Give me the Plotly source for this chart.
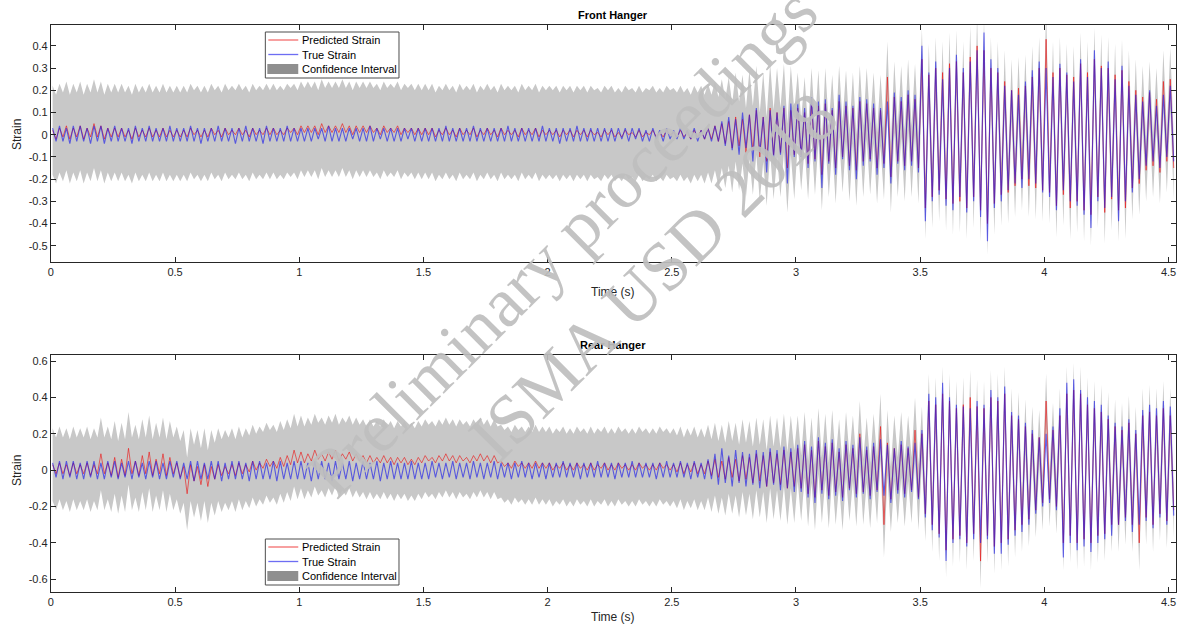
import numpy as np
import plotly.graph_objects as go

# ---------------- data (strain in hundredths, one row = 0.5 s, alternating peak/trough) -------------
SAMPLES_PER_SECOND = 72          # peak + trough of a ~36 Hz oscillation
ROW_SECONDS = 0.5

front_true = [
    [3,-3,4,-3,3,-4,4,-3,4,-3,3,-4,4,-3,4,-4,3,-3,4,-3,3,-3,3,-4,4,-3,3,-3,4,-3,3,-3,3,-3,4,-3],
    [3,-3,3,-3,4,-3,3,-4,3,-3,3,-3,4,-3,3,-3,3,-4,3,-3,4,-3,3,-3,3,-4,4,-3,3,-3,3,-3,4,-3,3,-3],
    [3,-3,3,-3,3,-2,3,-3,4,-3,3,-3,3,-3,3,-2,3,-3,3,-3,4,-3,3,-2,3,-3,3,-3,3,-3,3,-2,3,-3,3,-3],
    [3,-3,3,-3,3,-3,4,-3,3,-3,3,-3,3,-3,4,-3,3,-3,3,-3,3,-3,3,-3,4,-3,3,-3,3,-3,3,-3,3,-3,4,-3],
    [3,-3,3,-4,3,-3,3,-3,4,-3,3,-3,3,-3,3,-3,3,-3,3,-3,3,-2,3,-3,3,-2,3,-3,2,-3,3,-2,2,-3,3,-2],
    [2,-2,3,-2,2,-2,3,-3,2,-2,3,-3,4,-3,6,-5,8,-7,7,-9,10,-6,9,-12,12,-8,8,-17,11,-10,10,-9,13,-22,14,-10],
    [14,-10,12,-15,17,-12,15,-24,16,-13,12,-18,18,-11,15,-16,13,-20,17,-14,16,-12,14,-18,12,-15,15,-22,19,-13,17,-16,20,-14,18,-17],
    [40,-39,28,-30,33,-27,25,-32,30,-34,36,-28,30,-35,33,-30,38,-37,46,-48,34,-33,30,-30,22,-25,20,-22,18,-24,24,-20,29,-22,33,-26],
    [30,-28,26,-34,32,-25,28,-30,24,-32,34,-36,26,-42,38,-30,30,-33,33,-28,25,-39,31,-30,22,-26,18,-20,15,-14,20,-12,13,-15,18,-10],
    [22,-12],
]
front_pred = [
    [2,-2,3,-1,4,-2,3,-1,4,-2,3,-1,5,-1,4,-2,3,-1,3,-1,3,-1,2,-2,3,-1,2,-1,3,-1,2,-1,3,-1,2,-1],
    [2,-1,2,-1,3,0,2,-1,2,-1,3,0,2,-1,3,0,2,0,3,0,2,-1,3,0,2,0,3,0,3,0,2,0,3,1,3,0],
    [4,1,4,1,4,0,5,1,4,1,4,1,5,1,4,0,4,1,4,1,4,1,3,0,4,1,3,1,4,0,3,1,3,0,3,0],
    [3,0,3,-1,2,0,3,0,2,-1,3,0,2,0,3,-1,2,0,3,0,2,-1,3,0,2,0,2,-1,3,0,2,0,3,-1,2,0],
    [2,0,2,-1,2,0,2,-1,2,0,2,-1,2,0,1,-1,2,0,2,-1,1,-1,2,0,1,-1,2,-1,1,0,2,-1,1,-1,2,0],
    [1,-1,2,-1,1,-2,2,-1,2,-2,3,-2,4,-3,5,-4,6,-6,8,-5,7,-8,9,-7,11,-10,8,-12,12,-9,10,-8,12,-15,11,-9],
    [12,-9,10,-13,14,-11,13,-18,14,-12,11,-15,15,-10,13,-14,12,-16,15,-12,14,-11,12,-15,11,-13,26,-19,17,-12,15,-14,18,-12,16,-15],
    [34,-33,27,-28,30,-25,28,-29,32,-31,33,-30,28,-33,35,-28,40,-34,38,-40,30,-31,28,-27,24,-26,20,-23,21,-20,22,-23,26,-24,30,-25],
    [43,-26,28,-32,30,-27,27,-33,26,-30,32,-34,28,-36,34,-28,31,-35,30,-29,27,-34,29,-33,24,-24,20,-22,17,-16,19,-14,16,-17,24,-12],
    [25,-15],
]
front_ci_half = [20, 20, 20, 20, 20, 20, 16, 14, 14, 14]   # half-width per 0.5 s row

rear_true = [
    [4,-4,5,-5,5,-4,5,-5,4,-5,5,-4,5,-5,4,-5,5,-4,5,-5,4,-4,5,-5,5,-4,4,-5,5,-4,5,-5,4,-5,5,-4],
    [5,-5,4,-5,5,-6,5,-5,4,-5,5,-5,5,-6,4,-5,5,-5,5,-5,4,-6,5,-5,5,-5,4,-5,5,-6,5,-5,4,-5,5,-5],
    [5,-5,4,-6,5,-5,5,-5,4,-6,5,-5,4,-5,5,-6,4,-5,5,-5,4,-5,5,-6,4,-5,5,-5,4,-5,4,-5,5,-5,4,-5],
    [4,-5,5,-4,4,-5,4,-4,5,-5,4,-4,4,-5,5,-4,4,-5,4,-4,5,-5,4,-4,4,-5,4,-4,5,-4,4,-5,4,-4,4,-5],
    [4,-4,4,-4,5,-4,4,-4,4,-5,4,-4,4,-4,5,-4,4,-4,4,-5,4,-4,4,-4,5,-4,4,-4,4,-4,4,-5,4,-4,5,-4],
    [4,-4,5,-4,4,-5,5,-4,4,-5,6,-5,9,-8,12,-7,8,-9,11,-7,10,-9,9,-8,11,-10,10,-9,12,-8,11,-11,13,-10,12,-12],
    [14,-12,16,-15,13,-18,18,-13,15,-16,17,-14,12,-17,16,-11,14,-15,18,-13,13,-16,15,-12,17,-14,14,-18,12,-13,16,-15,13,-12,15,-16],
    [22,-26,42,-33,40,-37,48,-50,40,-40,36,-38,35,-42,34,-38,38,-40,36,-38,44,-46,40,-46,46,-41,32,-36,30,-34,26,-30,22,-24,18,-20],
    [20,-18,24,-22,34,-48,48,-40,50,-44,44,-42,40,-45,38,-40,36,-38,30,-36,26,-30,24,-28,28,-34,22,-30,33,-28,36,-32,34,-26,38,-30],
    [35,-25],
]
rear_pred = [
    [3,-2,4,-2,3,-3,4,-2,3,-2,4,-3,3,-2,9,-2,4,-3,7,-4,6,-3,12,-2,5,-3,8,-2,10,-3,6,-2,9,-3,7,-2],
    [4,-4,2,-13,3,-6,2,-8,3,-9,2,-5,3,-3,2,-2,3,-3,4,-2,3,-1,5,0,4,1,6,2,5,1,7,2,8,3,11,4],
    [10,4,9,5,11,6,9,5,10,6,11,5,9,6,10,5,9,5,8,4,8,4,7,4,8,4,7,3,7,4,7,3,6,3,7,4],
    [8,5,7,4,8,5,9,5,8,4,8,5,7,4,8,5,9,5,8,4,8,4,5,2,4,1,5,2,4,1,4,1,5,1,4,1],
    [4,0,3,1,4,0,3,0,4,1,3,0,4,0,3,1,4,0,3,0,4,1,3,0,3,0,4,1,3,0,3,0,4,1,3,0],
    [3,-1,4,-2,3,-1,4,-2,3,-2,5,-3,6,-4,5,-5,7,-4,6,-6,8,-5,7,-7,9,-6,8,-9,10,-7,9,-8,11,-10,10,-9],
    [12,-10,14,-13,11,-15,16,-11,13,-14,15,-12,10,-15,14,-10,12,-13,20,-12,11,-14,13,-11,24,-30,15,-16,12,-11,14,-13,12,-11,22,-15],
    [20,-24,38,-30,36,-35,42,-44,38,-38,34,-36,36,-40,40,-35,35,-50,34,-36,40,-42,38,-40,42,-38,30,-33,28,-30,24,-27,20,-22,18,-18],
    [38,-16,22,-20,30,-40,42,-36,44,-40,42,-38,36,-40,34,-36,32,-35,28,-30,24,-30,22,-26,26,-30,20,-40,30,-26,32,-30,30,-24,34,-28],
    [30,-22],
]
rear_ci_half = [20, 20, 20, 20, 20, 20, 18, 15, 15, 15]

legend_labels = ["Predicted Strain", "True Strain", "Confidence Interval"]
x_ticks = [0, 0.5, 1, 1.5, 2, 2.5, 3, 3.5, 4, 4.5]
front_y_ticks = [-0.5, -0.4, -0.3, -0.2, -0.1, 0, 0.1, 0.2, 0.3, 0.4]
rear_y_ticks = [-0.6, -0.4, -0.2, 0, 0.2, 0.4, 0.6]
x_range = [0, 4.53]
front_y_range = [-0.573, 0.494]
rear_y_range = [-0.67, 0.633]

# ---------------- helpers ----------------
def to_series(rows):
    t, v = [], []
    for r, row in enumerate(rows):
        for k, val in enumerate(row):
            t.append(r * ROW_SECONDS + (k + 0.5) / SAMPLES_PER_SECOND)
            v.append(val / 100.0)
    return np.array(t), np.array(v)

def ci_band(rows, half):
    t, v = to_series(rows)
    hw = []
    for r, row in enumerate(rows):
        hw += [half[r] / 100.0] * len(row)
    hw = np.array(hw)
    return t, v + hw, v - hw

W, H = 1182, 625
def px_x(x): return x / W
def px_y(y): return (H - y) / H

FONT = "Liberation Sans, Arial, Helvetica, sans-serif"
SERIF = "Liberation Serif, Times New Roman, serif"
INK = "#262626"
RED = "rgba(235,20,20,0.62)"
BLUE = "rgba(20,20,235,0.62)"
CI_FILL = "#c8c8c8"
CI_LEGEND = "#8f8f8f"
WATERMARK = "rgba(190,190,190,0.92)"

fig = go.Figure()

panels = [
    (front_true, front_pred, front_ci_half, "x", "y"),
    (rear_true, rear_pred, rear_ci_half, "x2", "y2"),
]
for true_rows, pred_rows, half, xa, ya in panels:
    t, up, lo = ci_band(pred_rows, half)
    fig.add_trace(go.Scatter(
        x=np.concatenate([t, t[::-1]]), y=np.concatenate([up, lo[::-1]]),
        fill="toself", fillcolor=CI_FILL, line=dict(width=0), mode="lines",
        hoverinfo="skip", showlegend=False, name=legend_labels[2], xaxis=xa, yaxis=ya))
    tp, vp = to_series(pred_rows)
    fig.add_trace(go.Scatter(x=tp, y=vp, mode="lines", line=dict(color=RED, width=1),
                             name=legend_labels[0], showlegend=False, xaxis=xa, yaxis=ya))
    tt, vt = to_series(true_rows)
    fig.add_trace(go.Scatter(x=tt, y=vt, mode="lines", line=dict(color=BLUE, width=1.1),
                             name=legend_labels[1], showlegend=False, xaxis=xa, yaxis=ya))

axis_common = dict(showline=True, linecolor=INK, linewidth=1, mirror="ticks",
                   ticks="inside", ticklen=5, tickcolor=INK, showgrid=False,
                   zeroline=False, tickfont=dict(family=FONT, size=11, color=INK))
xdom = [px_x(48), px_x(1176)]
fig.update_layout(
    width=W, height=H, margin=dict(l=0, r=0, t=0, b=0),
    paper_bgcolor="white", plot_bgcolor="white", showlegend=False,
    font=dict(family=FONT, size=11, color=INK),
    xaxis=dict(domain=xdom, range=x_range, anchor="y", tickvals=x_ticks,
               ticktext=[f"{v:g}" for v in x_ticks], **axis_common),
    yaxis=dict(domain=[px_y(262), px_y(25)], range=front_y_range, anchor="x",
               tickvals=front_y_ticks, ticktext=[f"{v:g}" for v in front_y_ticks], **axis_common),
    xaxis2=dict(domain=xdom, range=x_range, anchor="y2", tickvals=x_ticks,
                ticktext=[f"{v:g}" for v in x_ticks], **axis_common),
    yaxis2=dict(domain=[px_y(592), px_y(355)], range=rear_y_range, anchor="x2",
                tickvals=rear_y_ticks, ticktext=[f"{v:g}" for v in rear_y_ticks], **axis_common),
)

# ---------------- hand-drawn legend boxes (MATLAB style, compact rows) ----------------
shapes = []
ann = []
def add_legend(left, top):
    right, bottom = left + 134, top + 46
    shapes.append(dict(type="rect", xref="paper", yref="paper", x0=px_x(left), x1=px_x(right),
                       y0=px_y(bottom), y1=px_y(top), line=dict(color="#4d4d4d", width=1),
                       fillcolor="white", layer="above"))
    rows_y = [top + 8, top + 22.5, top + 37]
    for i, label in enumerate(legend_labels):
        y = rows_y[i]
        if i < 2:
            shapes.append(dict(type="line", xref="paper", yref="paper", x0=px_x(left + 3),
                               x1=px_x(left + 33), y0=px_y(y), y1=px_y(y),
                               line=dict(color=[RED, BLUE][i], width=1.3), layer="above"))
        else:
            shapes.append(dict(type="rect", xref="paper", yref="paper", x0=px_x(left + 2),
                               x1=px_x(left + 33), y0=px_y(y + 5), y1=px_y(y - 5),
                               line=dict(width=0), fillcolor=CI_LEGEND, layer="above"))
        ann.append(dict(text=label, x=px_x(left + 35), y=px_y(y), xanchor="left", yanchor="middle",
                        font=dict(size=11, color="#000")))

add_legend(263, 32)
add_legend(263, 539)

cx = px_x(612)
ann += [
    dict(text="<b>Front Hanger</b>", x=cx, y=px_y(15), font=dict(size=11, color="#000")),
    dict(text="<b>Rear Hanger</b>", x=cx, y=px_y(345), font=dict(size=11, color="#000")),
    dict(text="Time (s)", x=cx, y=px_y(292), font=dict(size=12, color=INK)),
    dict(text="Time (s)", x=cx, y=px_y(617), font=dict(size=12, color=INK)),
    dict(text="Strain", x=px_x(14), y=px_y(134), textangle=-90, font=dict(size=12, color=INK)),
    dict(text="Strain", x=px_x(14), y=px_y(470), textangle=-90, font=dict(size=12, color=INK)),
    dict(text="Preliminary proceedings", x=px_x(560), y=px_y(242), textangle=-45,
         font=dict(family=SERIF, size=70, color=WATERMARK)),
    dict(text="ISMA USD 2018", x=px_x(652), y=px_y(276), textangle=-45,
         font=dict(family=SERIF, size=70, color=WATERMARK)),
]
for a in ann:
    a.update(xref="paper", yref="paper", showarrow=False)
    a.setdefault("xanchor", "center")
    a.setdefault("yanchor", "middle")
    a["font"].setdefault("family", FONT)
fig.update_layout(annotations=ann, shapes=shapes)

fig.write_html("out.html", config={"displayModeBar": False},
               post_script="document.body.style.margin='0';document.body.style.overflow='hidden';")
